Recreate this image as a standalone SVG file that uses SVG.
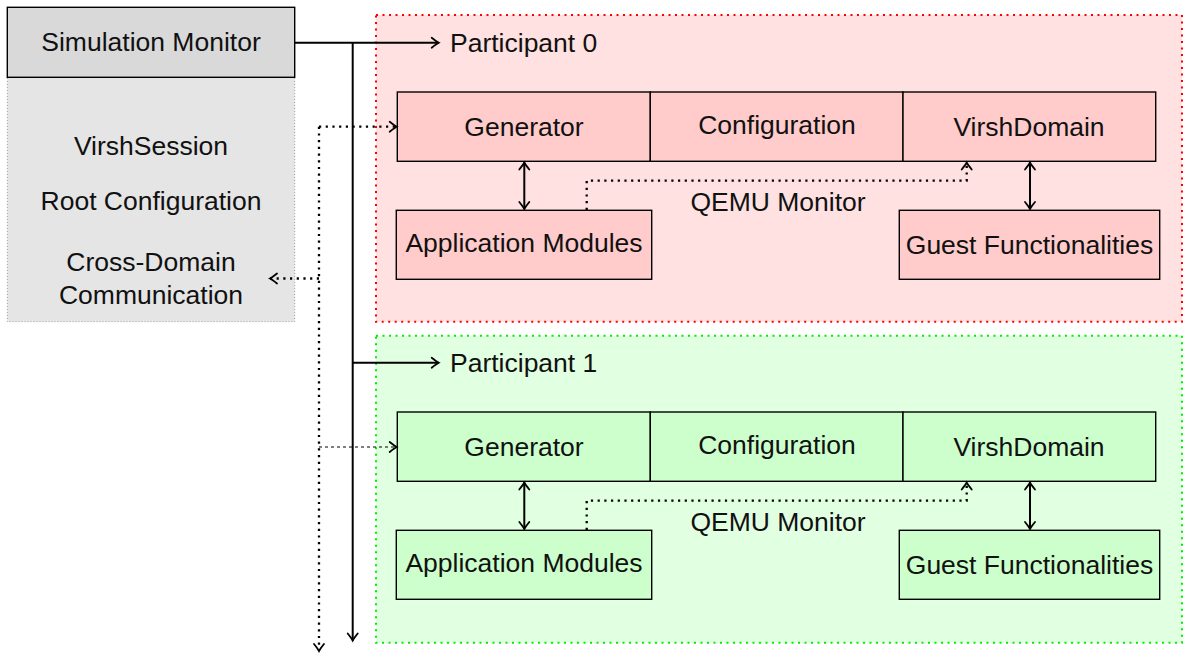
<svg xmlns="http://www.w3.org/2000/svg" width="1192" height="657" viewBox="0 0 1192 657">
<style>
text{font-family:"Liberation Sans",Arial,sans-serif;font-size:26.5px;fill:#111;text-anchor:middle}
text.l{text-anchor:start}
.box{stroke:#000;stroke-width:1.4}
.red{fill:#ffcbcb}
.grn{fill:#ccffcc}
.solid{fill:none;stroke:#000;stroke-width:2}
.dot{fill:none;stroke:#000;stroke-width:2.3;stroke-dasharray:2.2 4.5}
.thin{fill:none;stroke:#000;stroke-width:1.1;stroke-dasharray:3 3}
</style>
<defs>
<marker id="ah" markerUnits="userSpaceOnUse" markerWidth="16" markerHeight="16" refX="0" refY="0" viewBox="-10 -8 12 16" orient="auto-start-reverse">
<path d="M-7,-5 Q-2,-1 0,0 Q-2,1 -7,5" fill="none" stroke="#000" stroke-width="1.8" stroke-linecap="round"/>
</marker>
</defs>
<g id="monitor">
<rect x="7.3" y="77.3" width="287.4" height="244.4" fill="#e5e5e5" stroke="#999" stroke-width="1" stroke-dasharray="1 2"/>
<rect x="7.3" y="7.3" width="287.4" height="70" fill="#d9d9d9" class="box"/>
<text x="151" y="51">Simulation Monitor</text>
<text x="151" y="155">VirshSession</text>
<text x="151" y="210">Root Configuration</text>
<text x="151" y="271">Cross-Domain</text>
<text x="151" y="304">Communication</text>
</g>
<g id="participant0">
<rect x="376" y="15" width="806" height="306.7" fill="#ffe1e1" stroke="#f00" stroke-width="2" stroke-dasharray="2 4.5"/>
<text class="l" x="450" y="52">Participant 0</text>
<g id="p0-generator"><rect x="397.3" y="92" width="253" height="69.3" class="box red"/><text x="524" y="136">Generator</text></g>
<g id="p0-configuration"><rect x="650.3" y="92" width="252.7" height="69.3" class="box red"/><text x="777" y="134">Configuration</text></g>
<g id="p0-virshdomain"><rect x="903" y="92" width="252.7" height="69.3" class="box red"/><text x="1029" y="136">VirshDomain</text></g>
<g id="p0-app"><rect x="396.3" y="210.3" width="255.4" height="69" class="box red"/><text x="524" y="252">Application Modules</text></g>
<g id="p0-guest"><rect x="899.3" y="210.3" width="260.4" height="69" class="box red"/><text x="1029.5" y="254">Guest Functionalities</text></g>
<text x="778" y="211">QEMU Monitor</text>
</g>
<g id="participant1">
<rect x="376" y="335.7" width="806" height="307" fill="#e1ffe1" stroke="#0e0" stroke-width="2" stroke-dasharray="2 4.5"/>
<text class="l" x="450" y="372">Participant 1</text>
<g id="p1-generator"><rect x="397.3" y="412" width="253" height="69.3" class="box grn"/><text x="524" y="456">Generator</text></g>
<g id="p1-configuration"><rect x="650.3" y="412" width="252.7" height="69.3" class="box grn"/><text x="777" y="454">Configuration</text></g>
<g id="p1-virshdomain"><rect x="903" y="412" width="252.7" height="69.3" class="box grn"/><text x="1029" y="456">VirshDomain</text></g>
<g id="p1-app"><rect x="396.3" y="530.3" width="255.4" height="69" class="box grn"/><text x="524" y="572">Application Modules</text></g>
<g id="p1-guest"><rect x="899.3" y="530.3" width="260.4" height="69" class="box grn"/><text x="1029.5" y="574">Guest Functionalities</text></g>
<text x="778" y="531">QEMU Monitor</text>
</g>
<g id="connectors">
<path class="solid" d="M294.7,42.7 H438.7" marker-end="url(#ah)"/>
<path class="solid" d="M352.7,42.7 V640.5" marker-end="url(#ah)"/>
<path class="solid" d="M352.7,362.7 H438.7" marker-end="url(#ah)"/>
<path class="dot" d="M319,126.7 V651" marker-end="url(#ah)"/>
<path class="dot" d="M319,126.7 H396.7" marker-end="url(#ah)"/>
<path class="dot" d="M319,278.5 H270" marker-end="url(#ah)"/>
<path class="thin" d="M319,447 H396.7" marker-end="url(#ah)"/>
<path class="solid" d="M524.3,162.5 V209" marker-start="url(#ah)" marker-end="url(#ah)"/>
<path class="solid" d="M1030,162.5 V209" marker-start="url(#ah)" marker-end="url(#ah)"/>
<path class="dot" d="M586.7,210 V180.7 H966.7 V162.5" marker-end="url(#ah)"/>
<path class="solid" d="M524.3,482.5 V529" marker-start="url(#ah)" marker-end="url(#ah)"/>
<path class="solid" d="M1030,482.5 V529" marker-start="url(#ah)" marker-end="url(#ah)"/>
<path class="dot" d="M586.7,530 V500.7 H966.7 V482.5" marker-end="url(#ah)"/>
</g>
</svg>
